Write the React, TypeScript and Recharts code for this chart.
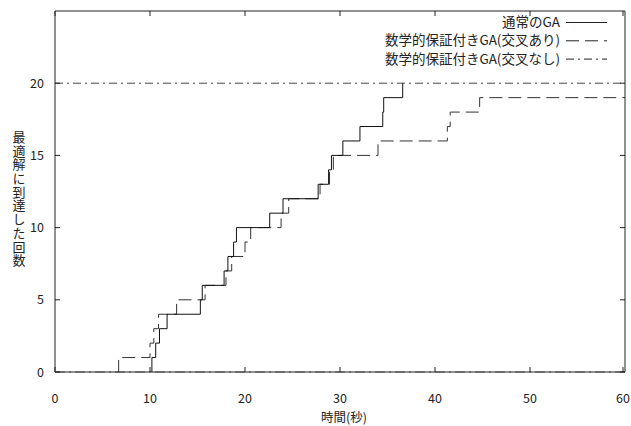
import React from 'react';
import { LineChart, Line, XAxis, YAxis, ReferenceLine, ReferenceArea, Legend } from 'recharts';

// time (s) at which each count was reached
const plainTimes = [10.2, 10.2, 10.6, 11.0, 11.8, 15.3, 15.5, 17.8, 18.2, 18.8, 19.1, 22.6, 24.0, 27.7, 28.8, 29.1, 30.3, 32.1, 34.5, 34.6, 36.6];
const plainCounts = [0, 1, 2, 3, 4, 5, 6, 7, 8, 9, 10, 11, 12, 13, 14, 15, 16, 17, 18, 19, 20];

const crossTimes = [6.6, 6.7, 10.0, 10.4, 10.9, 12.8, 15.8, 18.0, 18.6, 20.0, 20.6, 23.8, 24.6, 27.9, 28.9, 29.3, 34.0, 41.3, 41.6, 44.7, 60];
const crossCounts = [0, 1, 2, 3, 4, 5, 6, 7, 8, 9, 10, 11, 12, 13, 14, 15, 16, 17, 18, 19, 19];

const noCrossTimes = [0, 60];
const noCrossCounts = [20, 20];

const seriesNames = ['通常のGA', '数学的保証付きGA(交叉あり)', '数学的保証付きGA(交叉なし)'];
const xTicks = [0, 10, 20, 30, 40, 50, 60];
const yTicks = [0, 5, 10, 15, 20];
const yTitle = '最適解に到達した回数';
const xTitle = '時間(秒)';

const toPoints = (ts: number[], vs: number[]) => ts.map((t, i) => ({ t, v: vs[i] }));
const plainData = toPoints(plainTimes, plainCounts);
const crossData = toPoints(crossTimes, crossCounts);
const noCrossData = toPoints(noCrossTimes, noCrossCounts);

const INK = '#222';
const FONT = "'Noto Sans CJK JP', 'DejaVu Sans', sans-serif";
const TOP = 11;
const BOTTOM = 372;
const LEFT = 55;
const RIGHT = 625;
const DASH = '13 6';
const DASHDOT = '8 4 2 4';

const XTick = (props: any) => {
  const { x, payload } = props;
  return (
    <g>
      <line x1={x} x2={x} y1={BOTTOM} y2={BOTTOM - 5} stroke={INK} />
      <line x1={x} x2={x} y1={TOP} y2={TOP + 5} stroke={INK} />
      <text x={x} y={403} textAnchor="middle" fontSize={12.5} fill={INK} fontFamily={FONT}>
        {payload.value}
      </text>
    </g>
  );
};

const YTick = (props: any) => {
  const { y, payload } = props;
  return (
    <g>
      <line x1={LEFT} x2={LEFT + 5} y1={y} y2={y} stroke={INK} />
      <line x1={RIGHT} x2={RIGHT - 5} y1={y} y2={y} stroke={INK} />
      <text x={44} y={y + 4.5} textAnchor="end" fontSize={12.5} fill={INK} fontFamily={FONT}>
        {payload.value}
      </text>
    </g>
  );
};

const XTitle = () => (
  <text x={344} y={422} textAnchor="middle" fontSize={12.5} fill={INK} fontFamily={FONT}>
    {xTitle}
  </text>
);

const YTitle = () => (
  <text
    x={19}
    y={199}
    textAnchor="middle"
    fontSize={13}
    fill={INK}
    fontFamily={FONT}
    letterSpacing={0.7}
    style={{ writingMode: 'vertical-rl', textOrientation: 'upright' }}
  >
    {yTitle}
  </text>
);

const dashes = [undefined, DASH, DASHDOT];

const renderLegend = () => (
  <svg width={631} height={70} style={{ display: 'block' }}>
    {seriesNames.map((name, i) => {
      const cy = 22.5 + i * 18.3;
      return (
        <g key={name}>
          <text x={560} y={cy + 4.5} textAnchor="end" fontSize={13.5} fill={INK} fontFamily={FONT}>
            {name}
          </text>
          <line x1={566} x2={607} y1={cy} y2={cy} stroke={INK} strokeDasharray={dashes[i]} />
        </g>
      );
    })}
  </svg>
);

export default function App() {
  return (
    <div style={{ position: 'absolute', left: 0, top: 0, background: '#fff' }}>
      <LineChart width={631} height={426} margin={{ top: TOP, right: 6, bottom: 0, left: 0 }}>
        <XAxis
          type="number"
          dataKey="t"
          domain={[0, 60]}
          ticks={xTicks}
          height={54}
          axisLine={false}
          tickLine={false}
          tick={XTick}
          label={{ content: XTitle }}
          allowDataOverflow
        />
        <YAxis
          type="number"
          domain={[0, 25]}
          ticks={yTicks}
          width={55}
          axisLine={false}
          tickLine={false}
          tick={YTick}
          label={{ content: YTitle }}
          allowDataOverflow
        />
        <ReferenceArea x1={0} x2={60} y1={0} y2={25} fill="none" stroke={INK} strokeWidth={1} />
        <ReferenceLine y={0} stroke="#444" strokeDasharray="10 4 2 4" />
        <Line data={noCrossData} dataKey="v" type="linear" name={seriesNames[2]} stroke="#444" strokeDasharray={DASHDOT} strokeWidth={1} dot={false} isAnimationActive={false} />
        <Line data={crossData} dataKey="v" type="stepAfter" name={seriesNames[1]} stroke="#333" strokeDasharray={DASH} strokeWidth={1} dot={false} isAnimationActive={false} />
        <Line data={plainData} dataKey="v" type="stepAfter" name={seriesNames[0]} stroke="#111" strokeWidth={1} dot={false} isAnimationActive={false} />
        <Legend
          layout="vertical"
          align="center"
          verticalAlign="middle"
          wrapperStyle={{ position: 'absolute', left: 0, top: 0, width: 631, height: 70 }}
          content={renderLegend}
        />
      </LineChart>
    </div>
  );
}
